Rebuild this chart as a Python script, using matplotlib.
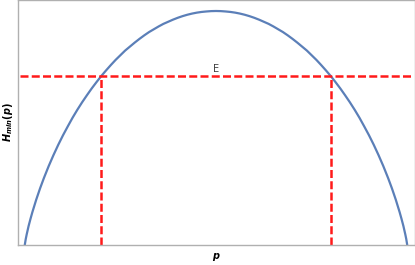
import matplotlib
matplotlib.use("Agg")
import matplotlib.pyplot as plt

plt.rcParams["mathtext.fontset"] = "custom"
plt.rcParams["mathtext.it"] = "DejaVu Sans:italic:bold"
plt.rcParams["mathtext.rm"] = "DejaVu Sans:bold"

# curve, left half then right half
p_left = [0.0, 0.0025, 0.005, 0.01, 0.015, 0.02, 0.03, 0.04, 0.05, 0.0625, 0.075, 0.0875,
          0.1, 0.1125, 0.125, 0.1375, 0.15, 0.1625, 0.175, 0.1875, 0.2, 0.2125, 0.225,
          0.2375, 0.25, 0.2625, 0.275, 0.2875, 0.3, 0.3125, 0.325, 0.3375, 0.35, 0.3625,
          0.375, 0.3875, 0.4, 0.4125, 0.425, 0.4375, 0.45, 0.4625, 0.475, 0.4875, 0.5]
h_left = [0.0, 0.025, 0.045, 0.081, 0.112, 0.141, 0.194, 0.242, 0.286, 0.337, 0.384, 0.428,
          0.469, 0.507, 0.544, 0.578, 0.610, 0.640, 0.669, 0.696, 0.722, 0.746, 0.769,
          0.791, 0.811, 0.831, 0.848, 0.865, 0.881, 0.896, 0.910, 0.922, 0.934, 0.945,
          0.954, 0.963, 0.971, 0.978, 0.984, 0.989, 0.993, 0.996, 0.998, 0.9995, 1.0]
p_right = [0.5125, 0.525, 0.5375, 0.55, 0.5625, 0.575, 0.5875, 0.6, 0.6125, 0.625, 0.6375,
           0.65, 0.6625, 0.675, 0.6875, 0.7, 0.7125, 0.725, 0.7375, 0.75, 0.7625, 0.775,
           0.7875, 0.8, 0.8125, 0.825, 0.8375, 0.85, 0.8625, 0.875, 0.8875, 0.9, 0.9125,
           0.925, 0.9375, 0.95, 0.96, 0.97, 0.98, 0.985, 0.99, 0.995, 0.9975, 1.0]
h_right = [0.9995, 0.998, 0.996, 0.993, 0.989, 0.984, 0.978, 0.971, 0.963, 0.954, 0.945,
           0.934, 0.922, 0.910, 0.896, 0.881, 0.865, 0.848, 0.831, 0.811, 0.791, 0.769,
           0.746, 0.722, 0.696, 0.669, 0.640, 0.610, 0.578, 0.544, 0.507, 0.469, 0.428,
           0.384, 0.337, 0.286, 0.242, 0.194, 0.141, 0.112, 0.081, 0.045, 0.025, 0.0]

e_level = 0.722
p_cross = [0.2, 0.8]

fig = plt.figure(figsize=(4.15, 2.65), dpi=100)
ax = fig.add_axes([17.5 / 415, 20 / 265, 397 / 415, 245 / 265])

ax.plot(p_left + p_right, h_left + h_right, color="#5b7fb8", lw=1.6)

red = dict(color="#ff1a1a", lw=1.8, dashes=(3.2, 1.3))
ax.plot([-0.012, 1.013], [e_level, e_level], **red)
for pc in p_cross:
    ax.plot([pc, pc], [0, e_level], **red)

ax.text(0.5, e_level + 0.008, "E", ha="center", va="bottom", fontsize=7, color="#404040")

ax.set_xlim(-0.019, 1.019)
ax.set_ylim(0, 1.047)
ax.set_xticks([])
ax.set_yticks([])
for s in ax.spines.values():
    s.set_color("#b0b0b0")
    s.set_linewidth(1.0)

ax.set_xlabel(r"$p$", fontsize=7, labelpad=4)
ax.set_ylabel(r"$H_{min}(p)$", fontsize=7, labelpad=2)

fig.savefig("out.png", dpi=100)
